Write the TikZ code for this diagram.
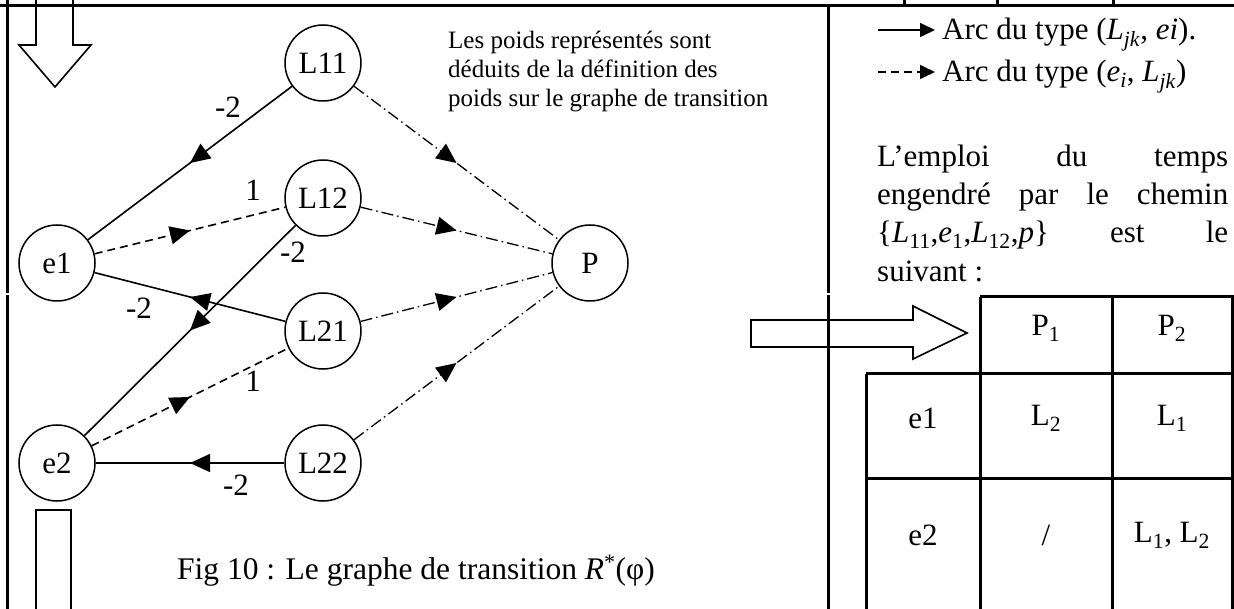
\documentclass[tikz,border=0pt]{standalone}
\usepackage{fontspec}
\setmainfont{Liberation Serif}
\usetikzlibrary{arrows.meta,decorations.markings}

\tikzset{
  state/.style={circle, draw, line width=1.5pt, minimum size=76pt, inner sep=0pt,
    font=\fontsize{31}{36}\selectfont},
  rule/.style={line width=3pt},
  outline/.style={line width=1.6pt, line join=miter},
  wlabel/.style={font=\fontsize{31}{36}\selectfont, inner sep=0pt},
  body/.style={font=\fontsize{31}{36}\selectfont, inner sep=0pt},
  notetext/.style={font=\fontsize{25}{29}\selectfont, inner sep=0pt, anchor=base west},
  midtip/.style={postaction={decorate}, decoration={markings,
      mark=at position 0.5 with {\arrow{Triangle[length=20pt,width=18pt]}}}},
  fullarc/.style={line width=1.6pt, midtip},
  dasharc/.style={line width=1.6pt, dash pattern=on 8pt off 5pt, midtip},
  dotarc/.style={line width=1.3pt, dash pattern=on 12pt off 4pt on 1.5pt off 4pt, midtip},
}

\begin{document}
\begin{tikzpicture}[x=1pt, y=-1pt]
  \useasboundingbox (0,0) rectangle (1234,609);

  % page frame (the vertical rules break briefly at the page seam)
  \draw[rule] (0,6) -- (1234,6);
  \draw[rule] (7,0) -- (7,293.5);
  \draw[rule] (7,295.5) -- (7,609);
  \draw[rule] (828,6) -- (828,293.5);
  \draw[rule] (828,295.5) -- (828,609);
  \foreach \x in {904,997,1113} \draw[rule] (\x,0) -- (\x,6);

  % outlined block arrows
  \draw[outline] (36,0) -- (36,45) -- (19,45) -- (55,87) -- (91,45) -- (73,45) -- (73,0);
  \draw[outline] (36,609) -- (36,510) -- (71,510) -- (71,609);
  \draw[outline] (751,320) -- (913,320) -- (913,306) -- (967,333) -- (913,359)
                 -- (913,347) -- (751,347) -- cycle;

  % states of the transition graph
  \node[state] (L11) at (323,63)  {L11};
  \node[state] (L12) at (323,198) {L12};
  \node[state] (L21) at (323,331) {L21};
  \node[state] (L22) at (323,463) {L22};
  \node[state] (e1)  at (57,263)  {e1};
  \node[state] (e2)  at (57,463)  {e2};
  \node[state] (P)   at (590,263) {P};

  % arcs (L_jk, e_i)
  \draw[fullarc] (L11) -- (e1);
  \draw[fullarc] (L12) -- (e2);
  \draw[fullarc] (L21) -- (e1);
  \draw[fullarc] (L22) -- (e2);
  % arcs (e_i, L_jk)
  \draw[dasharc] (e1) -- (L12);
  \draw[dasharc] (e2) -- (L21);
  % arcs towards P
  \draw[dotarc] (L11) -- (P);
  \draw[dotarc] (L12) -- (P);
  \draw[dotarc] (L21) -- (P);
  \draw[dotarc] (L22) -- (P);

  % weights
  \node[wlabel] (w1) at (228,107) {-2};
  \node[wlabel] (w2) at (253,190) {1};
  \node[wlabel] (w3) at (293,252) {-2};
  \node[wlabel] (w4) at (139,308) {-2};
  \node[wlabel] (w5) at (253,381) {1};
  \node[wlabel] (w6) at (236,485) {-2};

  % note on the weights
  \node[notetext] (n1) at (448,49)  {Les poids représentés sont};
  \node[notetext] (n2) at (448,78)  {déduits de la définition des};
  \node[notetext] (n3) at (448,107) {poids sur le graphe de transition};

  % caption
  \node[inner sep=0pt, anchor=base west, font=\fontsize{31.5}{36}\selectfont] (cap) at (177,579)
    {Fig 10 : Le graphe de transition \textit{R}\textsuperscript{*}(φ)};

  % legend
  \coordinate (k1a) at (878,30);  \coordinate (k1b) at (935,30);
  \coordinate (k2a) at (878,72);  \coordinate (k2b) at (935,72);
  \draw[line width=1.6pt, -{Triangle[length=15pt,width=14pt]}] (k1a) -- (k1b);
  \draw[line width=1.6pt, dash pattern=on 8pt off 5pt, -{Triangle[length=15pt,width=14pt]}] (k2a) -- (k2b);
  \node[body, anchor=base west] (t1) at (942,40)
    {Arc du type (\textit{L}\textsubscript{\textit{jk}}, \textit{ei}).};
  \node[body, anchor=base west] (t2) at (942,82)
    {Arc du type (\textit{e}\textsubscript{\textit{i}}, \textit{L}\textsubscript{\textit{jk}})};

  % paragraph
  \node[body, anchor=base west] (p1) at (877,167) {\makebox[351pt][s]{L’emploi du temps}};
  \node[body, anchor=base west] (p2) at (877,205) {\makebox[351pt][s]{engendré par le chemin}};
  \node[body, anchor=base west] (p3) at (877,243)
    {\makebox[351pt][s]{\{\textit{L}\textsubscript{11},\textit{e}\textsubscript{1},\textit{L}\textsubscript{12},\textit{p}\} est le}};
  \node[body, anchor=base west] (p4) at (877,282) {suivant :};

  % schedule table
  \draw[rule] (980,297) -- (1234,297);
  \draw[rule] (866,374) -- (1234,374);
  \draw[rule] (866,478) -- (1234,478);
  \draw[rule] (866,374) -- (866,609);
  \draw[rule] (980,297) -- (980,609);
  \draw[rule] (1112,297) -- (1112,609);
  \draw[rule] (1232.5,297) -- (1232.5,609);

  \node[body] (h1) at (1046,328) {P\textsubscript{1}};
  \node[body] (h2) at (1172,328) {P\textsubscript{2}};
  \node[body] (r1) at (923,418) {e1};
  \node[body] (c11) at (1046,418) {L\textsubscript{2}};
  \node[body] (c12) at (1172,418) {L\textsubscript{1}};
  \node[body] (r2) at (923,535) {e2};
  \node[body] (c21) at (1046,535) {/};
  \node[body] (c22) at (1172,535) {L\textsubscript{1}, L\textsubscript{2}};
\end{tikzpicture}
\end{document}
